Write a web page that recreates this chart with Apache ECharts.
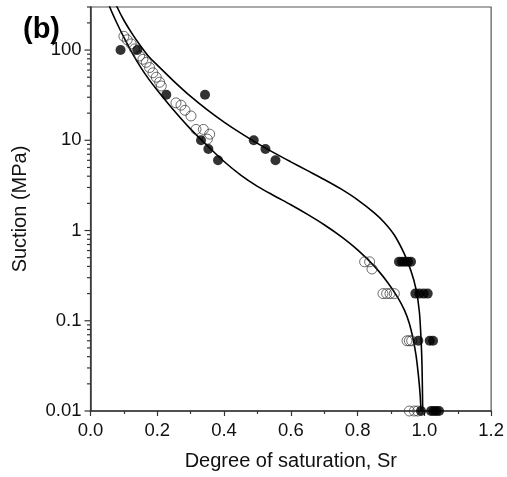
<!DOCTYPE html>
<html>
<head>
<meta charset="utf-8">
<script src="https://cdn.jsdelivr.net/npm/echarts@6/dist/echarts.min.js"></script>
<style>html,body{margin:0;padding:0;background:#fff}#c{width:507px;height:477px}</style>
</head>
<body>
<div id="c"></div>
<script>
// ---- data ----
const filledSr = [0.09,0.14,0.227,0.343,0.331,0.353,0.382,0.489,0.524,0.554,
  0.924,0.933,0.942,0.951,0.96,
  0.973,0.985,0.998,1.01,
  0.982,1.016,1.026,
  0.99,1.02,1.028,1.036,1.044];
const filledSuction = [100,100,32,32,10,8,6,10,8,6,
  0.45,0.45,0.45,0.45,0.45,
  0.2,0.2,0.2,0.2,
  0.06,0.06,0.06,
  0.01,0.01,0.01,0.01,0.01];

const openSr = [0.1,0.11,0.122,0.132,0.147,0.157,0.167,0.177,0.187,0.197,0.207,0.212,
  0.256,0.271,0.283,0.301,0.316,0.338,0.357,0.35,
  0.821,0.836,0.843,
  0.876,0.887,0.897,0.91,
  0.948,0.955,0.962,
  0.955,0.97,0.98];
const openSuction = [142,130,117,103,86,79,73,64,56,50,44,40,
  26,24.5,21.5,18.6,13.2,13.2,11.7,10.3,
  0.45,0.45,0.375,
  0.2,0.2,0.2,0.2,
  0.06,0.06,0.06,
  0.01,0.01,0.01];

const upperSr = [0.072,0.08,0.10,0.125,0.15,0.175,0.20,0.25,0.30,0.35,0.40,0.45,0.50,0.55,0.60,0.65,0.70,0.75,0.80,0.85,0.88,0.91,0.94,0.96,0.975,0.985,0.99,0.993,0.995];
const upperSuction = [355,298,214,151,111,84.1,68.1,45.0,30.6,21.7,15.9,12.0,9.25,7.26,5.77,4.61,3.68,2.89,2.19,1.57,1.23,0.891,0.55,0.355,0.224,0.126,0.063,0.0316,0.01];

const lowerSr = [0.052,0.058,0.075,0.10,0.125,0.15,0.175,0.20,0.25,0.30,0.35,0.40,0.45,0.50,0.55,0.60,0.65,0.70,0.75,0.80,0.85,0.89,0.92,0.94,0.955,0.965,0.975,0.982,0.987,0.99];
const lowerSuction = [355,298,214,138,92.3,64.6,47.3,35.9,21.4,13.3,8.71,5.82,4.12,3.09,2.43,1.93,1.51,1.16,0.861,0.61,0.403,0.266,0.182,0.132,0.0933,0.0661,0.0417,0.0251,0.0158,0.01];

const xTicks = [0, 0.2, 0.4, 0.6, 0.8, 1.0, 1.2];
const yMajorTicks = [0.01, 0.1, 1, 10, 100];
const yTickLabels = ['0.01', '0.1', '1', '10', '100'];
const yMinorTicks = [0.02,0.03,0.04,0.05,0.06,0.07,0.08,0.09,
  0.2,0.3,0.4,0.5,0.6,0.7,0.8,0.9,
  2,3,4,5,6,7,8,9,
  20,30,40,50,60,70,80,90,
  200,300];

// ---- chart ----
const zip = (a, b) => a.map((v, i) => [v, b[i]]);
const FONT = '"Liberation Sans", Arial, sans-serif';
const chart = echarts.init(document.getElementById('c'), null, {renderer: 'canvas'});

const tickData = yMajorTicks.map(v => [0, v, 6]).concat(yMinorTicks.map(v => [0, v, 3.5]));

chart.setOption({
  animation: false,
  backgroundColor: '#fff',
  title: {
    text: '(b)', left: 18, top: 10,
    textStyle: {fontFamily: FONT, fontSize: 29, fontWeight: 'bold', color: '#000'}
  },
  grid: {left: 90.5, right: 13, top: 7, bottom: 66, show: true, borderColor: '#555', borderWidth: 1.2, backgroundColor: 'transparent'},
  xAxis: {
    type: 'value', min: xTicks[0], max: xTicks[xTicks.length - 1], interval: 0.2,
    name: 'Degree of saturation, Sr', nameLocation: 'middle', nameGap: 40,
    nameTextStyle: {fontFamily: FONT, fontSize: 20, color: '#111'},
    axisLine: {show: true, lineStyle: {color: '#333', width: 1.5}},
    axisTick: {show: true, length: 5, lineStyle: {color: '#333', width: 1.2}},
    minorTick: {show: true, splitNumber: 2, length: 3, lineStyle: {color: '#333', width: 1.2}},
    splitLine: {show: false},
    axisLabel: {fontFamily: FONT, fontSize: 18.5, color: '#111', margin: 10,
      formatter: v => v.toFixed(1)}
  },
  yAxis: {
    type: 'log', logBase: 10, min: 0.01, max: 300,
    name: 'Suction (MPa)', nameLocation: 'middle', nameGap: 60,
    nameTextStyle: {fontFamily: FONT, fontSize: 20, color: '#111'},
    axisLine: {show: true, lineStyle: {color: '#333', width: 1.5}},
    axisTick: {show: false},
    splitLine: {show: false},
    axisLabel: {fontFamily: FONT, fontSize: 18.5, color: '#111', margin: 9,
      showMaxLabel: false,
      formatter: v => {
        const l = Math.log10(v), e = Math.round(l);
        if (Math.abs(l - e) > 1e-6) return '';
        const i = yMajorTicks.findIndex(t => Math.abs(Math.log10(t) - e) < 1e-6);
        return i >= 0 ? yTickLabels[i] : '';
      }}
  },
  series: [
    {
      type: 'custom', silent: true, clip: false, z: 1,
      data: tickData,
      renderItem: (params, api) => {
        const p = api.coord([api.value(0), api.value(1)]);
        const len = api.value(2);
        return {type: 'line', shape: {x1: p[0] - len, y1: p[1], x2: p[0], y2: p[1]},
          style: {stroke: '#333', lineWidth: 1.2}};
      }
    },
    {
      type: 'line', data: zip(upperSr, upperSuction), showSymbol: false, smooth: 0.3,
      lineStyle: {color: '#000', width: 1.6}, z: 2, silent: true
    },
    {
      type: 'line', data: zip(lowerSr, lowerSuction), showSymbol: false, smooth: 0.3,
      lineStyle: {color: '#000', width: 1.6}, z: 2, silent: true
    },
    {
      type: 'scatter', data: zip(openSr, openSuction), symbol: 'circle', symbolSize: 10,
      itemStyle: {color: 'rgba(255,255,255,0)', borderColor: '#333', borderWidth: 0.9}, z: 3, silent: true
    },
    {
      type: 'scatter', data: zip(filledSr, filledSuction), symbol: 'circle', symbolSize: 10,
      itemStyle: {color: '#000'}, z: 4, silent: true
    }
  ]
});
</script>
</body>
</html>
